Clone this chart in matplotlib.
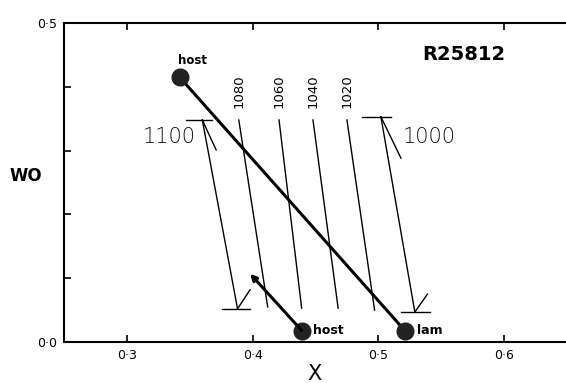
import matplotlib.pyplot as plt

# isotherms (deg C), top and bottom ends of each line
temps = ["1100", "1080", "1060", "1040", "1020", "1000"]
top_x = [0.360, 0.389, 0.421, 0.448, 0.475, 0.502]
top_y = [0.348, 0.348, 0.348, 0.348, 0.348, 0.353]
bot_x = [0.388, 0.412, 0.439, 0.468, 0.497, 0.529]
bot_y = [0.052, 0.055, 0.053, 0.053, 0.050, 0.047]

# end bars / strokes on the 1100 and 1000 lines
bar_top_x = [[0.347, 0.368], [0.487, 0.510]]
bar_bot_x = [[0.376, 0.398], [0.518, 0.541]]
stroke_top = [(0.371, 0.301), (0.518, 0.288)]
stroke_bot = [(0.398, 0.082), (0.539, 0.075)]

# host / lamella compositions
host_top = (0.342, 0.415)
host_bot = (0.439, 0.018)
lam = (0.521, 0.018)
arrow_tip = (0.398, 0.107)

xticks = [0.3, 0.4, 0.5, 0.6]
xticklabels = ["0·3", "0·4", "0·5", "0·6"]
yticks = [0.0, 0.1, 0.2, 0.3, 0.4, 0.5]
yticklabels = ["0·0", "", "", "", "", "0·5"]

fig = plt.figure(figsize=(5.66, 3.83), dpi=100)
ax = fig.add_axes([64 / 566, 41 / 383, 503 / 566, 319 / 383])

# thin isotherm lines
for i in range(len(temps)):
    ax.plot([top_x[i], bot_x[i]], [top_y[i], bot_y[i]], color="k", lw=1.0)

# bars and strokes on the outer isotherms
for j, i in enumerate([0, 5]):
    ax.plot(bar_top_x[j], [top_y[i], top_y[i]], color="k", lw=1.0)
    ax.plot(bar_bot_x[j], [bot_y[i], bot_y[i]], color="k", lw=1.0)
    ax.plot([top_x[i], stroke_top[j][0]], [top_y[i], stroke_top[j][1]], color="k", lw=1.0)
    ax.plot([bot_x[i], stroke_bot[j][0]], [bot_y[i], stroke_bot[j][1]], color="k", lw=1.0)

# labels on the inner isotherms
for i in range(1, 5):
    ax.text(top_x[i], 0.366, temps[i], rotation=90, ha="center", va="bottom", fontsize=9.5)
ax.text(0.334, 0.321, temps[0], ha="center", va="center", fontsize=15, fontweight="light", color="#111111")
ax.text(0.5405, 0.321, temps[5], ha="center", va="center", fontsize=15, fontweight="light", color="#111111")

# tie line host - lam
ax.plot([host_top[0], lam[0]], [host_top[1], lam[1]], color="k", lw=2.2)
ax.annotate("", xy=arrow_tip, xytext=host_bot,
            arrowprops=dict(arrowstyle="-|>", lw=2.2, color="k", shrinkA=0, shrinkB=0, mutation_scale=9))
ax.plot([host_top[0], host_bot[0], lam[0]], [host_top[1], host_bot[1], lam[1]],
        "o", color="#222222", markersize=12, linestyle="none")

ax.text(host_top[0] - 0.001, host_top[1] + 0.016, "host", fontsize=8.5, fontweight="semibold", va="bottom")
ax.text(host_bot[0] + 0.009, host_bot[1], "host", fontsize=9, fontweight="semibold", va="center")
ax.text(lam[0] + 0.010, lam[1], "lam", fontsize=9, fontweight="semibold", va="center")
ax.text(0.568, 0.450, "R25812", fontsize=14, fontweight="bold", ha="center", va="center")

ax.set_xlim(0.25, 0.65)
ax.set_ylim(0.0, 0.5)
ax.set_xticks(xticks)
ax.set_xticklabels(xticklabels, fontsize=9)
ax.set_yticks(yticks)
ax.set_yticklabels(yticklabels, fontsize=9)
ax.tick_params(direction="in", top=True, right=False, length=5, width=1.2, pad=5)
for s in ax.spines.values():
    s.set_linewidth(1.5)
# right spine sits just past the edge of the scan
ax.spines["right"].set_visible(False)

fig.text(26 / 566, 1 - 176 / 383, "WO", fontsize=12, fontweight="bold", ha="center", va="center")
fig.text(315 / 566, 1 - 374 / 383, "X", fontsize=15, ha="center", va="center")

fig.savefig("out.png", dpi=100)
